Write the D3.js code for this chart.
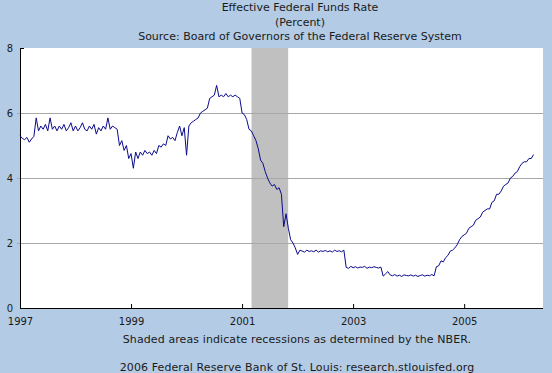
<!DOCTYPE html>
<html>
<head>
<meta charset="utf-8">
<script src="https://cdn.jsdelivr.net/npm/d3@7"></script>
<style>
	html, body { margin: 0; padding: 0; background: #B3CBE4; }
	svg { display: block; }
</style>
</head>
<body>
<div id="chart"></div>
<script>
// Effective federal funds rate, read twice a month off the reference, Jan 1997 - Mar 2006
const startYear = 1997;
const stepsPerYear = 24;
const rateValues = [
	// 1997
	5.30, 5.22, 5.18, 5.25, 5.10, 5.20, 5.28, 5.85, 5.45, 5.60, 5.50, 5.65,
	5.45, 5.85, 5.50, 5.60, 5.45, 5.60, 5.50, 5.65, 5.45, 5.55, 5.70, 5.45,
	// 1998
	5.60, 5.45, 5.55, 5.70, 5.50, 5.45, 5.60, 5.50, 5.65, 5.35, 5.55, 5.45,
	5.60, 5.50, 5.85, 5.50, 5.60, 5.55, 5.50, 5.00, 5.15, 4.85, 5.00, 4.60,
	// 1999
	4.75, 4.30, 4.80, 4.60, 4.80, 4.70, 4.85, 4.75, 4.80, 4.70, 4.85, 4.75,
	5.00, 4.95, 5.05, 5.00, 5.30, 5.20, 5.25, 5.15, 5.40, 5.60, 5.30, 5.55,
	// 2000
	4.70, 5.60, 5.70, 5.75, 5.80, 5.85, 6.00, 6.05, 6.10, 6.15, 6.45, 6.50,
	6.55, 6.85, 6.50, 6.55, 6.50, 6.60, 6.50, 6.55, 6.50, 6.55, 6.50, 6.45,
	// 2001
	6.00, 5.95, 5.80, 5.50, 5.45, 5.30, 5.15, 4.90, 4.55, 4.45, 4.20, 4.00,
	3.85, 3.75, 3.80, 3.65, 3.70, 3.50, 2.50, 2.90, 2.45, 2.10, 2.00, 1.85,
	// 2002
	1.65, 1.78, 1.75, 1.72, 1.78, 1.74, 1.76, 1.73, 1.78, 1.72, 1.76, 1.74,
	1.77, 1.73, 1.76, 1.72, 1.78, 1.74, 1.76, 1.73, 1.78, 1.25, 1.22, 1.28,
	// 2003
	1.24, 1.27, 1.23, 1.26, 1.25, 1.28, 1.22, 1.26, 1.24, 1.27, 1.25, 1.23,
	1.26, 0.98, 1.05, 1.12, 1.02, 0.99, 1.03, 0.98, 1.01, 0.97, 1.02, 1.00,
	// 2004
	0.99, 1.02, 0.98, 1.01, 0.97, 1.00, 1.02, 0.98, 1.01, 0.99, 1.03, 0.99,
	1.27, 1.30, 1.45, 1.42, 1.55, 1.62, 1.75, 1.78, 1.85, 1.95, 2.10, 2.20,
	// 2005
	2.25, 2.30, 2.45, 2.50, 2.55, 2.70, 2.75, 2.80, 2.95, 3.00, 3.05, 3.05,
	3.25, 3.30, 3.50, 3.50, 3.60, 3.75, 3.80, 3.85, 4.00, 4.05, 4.15, 4.20,
	// 2006
	4.35, 4.45, 4.50, 4.50, 4.60, 4.60, 4.72
];

const recessions = [[2001.17, 2001.83]];
const yearTicks = [1997, 1999, 2001, 2003, 2005];
const rateTicks = [0, 2, 4, 6, 8];
const titleLines = [
	'Effective Federal Funds Rate',
	'(Percent)',
	'Source: Board of Governors of the Federal Reserve System'
];
const footerLines = [
	'Shaded areas indicate recessions as determined by the NBER.',
	'2006 Federal Reserve Bank of St. Louis: research.stlouisfed.org'
];

const MARGIN = { LEFT: 20, RIGHT: 9, TOP: 48, BOTTOM: 65 };
const FONT = '"DejaVu Sans", Verdana, sans-serif';

const plot = function(conf) {
	const svg = d3.select(conf.selector).append('svg')
		.attr('width', conf.width)
		.attr('height', conf.height)
		.style('background-color', '#B3CBE4');

	const chartWidth = conf.width - MARGIN.LEFT - MARGIN.RIGHT;
	const chartHeight = conf.height - MARGIN.TOP - MARGIN.BOTTOM;

	// titles
	svg.append('g')
		.selectAll('text')
		.data(titleLines)
		.join('text')
			.text(d => d)
			.attr('x', 300)
			.attr('y', (d, i) => 11 + i * 14.5)
			.attr('text-anchor', 'middle')
			.style('font-family', FONT)
			.style('font-size', '11px')
			.style('fill', '#1a1a1a');

	const x = d3.scaleLinear()
		.domain([1997, 2006.42])
		.range([0, chartWidth]);
	const y = d3.scaleLinear()
		.domain([0, 8])
		.range([chartHeight, 0]);

	const chartGroup = svg.append('g')
		.attr('transform', `translate(${MARGIN.LEFT}, ${MARGIN.TOP})`);

	chartGroup.append('rect')
		.attr('width', chartWidth)
		.attr('height', chartHeight)
		.style('fill', '#fff');

	chartGroup.selectAll('.recession')
		.data(recessions)
		.join('rect')
			.classed('recession', true)
			.attr('x', d => x(d[0]))
			.attr('width', d => x(d[1]) - x(d[0]))
			.attr('y', 0)
			.attr('height', chartHeight)
			.style('fill', '#C0C0C0');

	// gridlines + y axis
	const axisY = d3.axisLeft(y)
		.tickValues(rateTicks)
		.tickSize(-chartWidth)
		.tickPadding(6)
		.tickFormat(d3.format('d'));
	const gY = chartGroup.append('g').call(axisY);
	gY.select('.domain').remove();
	gY.selectAll('.tick line')
		.attr('x1', -3)
		.style('stroke', '#A8A8A8')
		.style('shape-rendering', 'crispEdges');
	gY.selectAll('.tick')
		.filter(d => d === 0 || d === 8)
		.select('line').remove();
	gY.selectAll('text')
		.attr('x', -7)
		.style('font-family', FONT)
		.style('font-size', '10px')
		.style('fill', '#1a1a1a');

	chartGroup.append('line')
		.attr('x1', 0.5).attr('x2', 0.5)
		.attr('y1', 0).attr('y2', chartHeight)
		.style('stroke', '#000');
	chartGroup.append('line')
		.attr('x1', 0.5).attr('x2', 4)
		.attr('y1', 0.5).attr('y2', 0.5)
		.style('stroke', '#000');

	// x axis
	const axisX = d3.axisBottom(x)
		.tickValues(yearTicks)
		.tickSize(-4)
		.tickPadding(6)
		.tickFormat(d3.format('d'));
	const gX = chartGroup.append('g')
		.attr('transform', `translate(0,${chartHeight})`)
		.call(axisX);
	gX.select('.domain')
		.attr('d', `M0,0.5H${chartWidth}`)
		.style('stroke', '#000');
	gX.selectAll('text')
		.attr('y', 10)
		.style('font-family', FONT)
		.style('font-size', '10px')
		.style('fill', '#1a1a1a');

	// the series
	const line = d3.line()
		.x((d, i) => x(startYear + i / stepsPerYear))
		.y(d => y(d));
	chartGroup.append('path')
		.datum(rateValues)
		.attr('d', line)
		.style('fill', 'none')
		.style('stroke', '#0a0a8c')
		.style('stroke-width', 1);

	svg.append('g')
		.selectAll('text')
		.data(footerLines)
		.join('text')
			.text(d => d)
			.attr('x', 297)
			.attr('y', (d, i) => 343 + i * 28)
			.attr('text-anchor', 'middle')
			.style('font-family', FONT)
			.style('font-size', '11px')
			.style('letter-spacing', '0.1px')
			.style('fill', '#1a1a1a');
};

plot({ selector: '#chart', width: 552, height: 373 });
</script>
</body>
</html>
